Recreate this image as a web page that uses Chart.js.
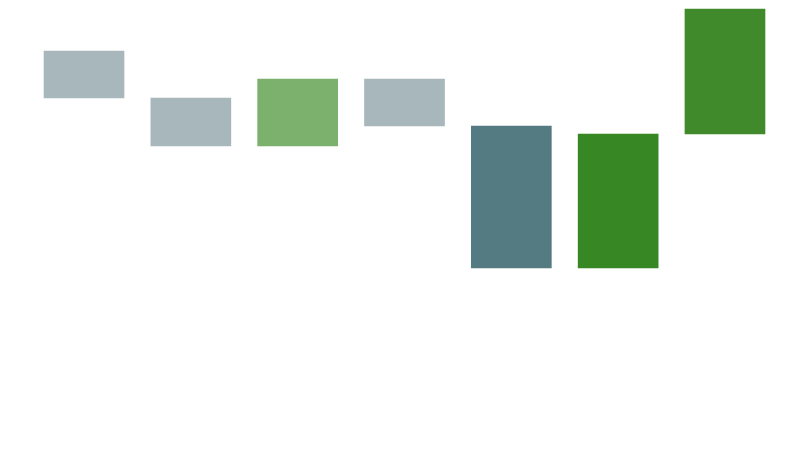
<!DOCTYPE html>
<html>
<head>
<meta charset="utf-8">
<script src="https://cdn.jsdelivr.net/npm/chart.js@4/dist/chart.umd.min.js"></script>
<style>
  html, body { margin: 0; padding: 0; background: #fff; }
  #wrap { width: 800px; height: 450px; }
</style>
</head>
<body>
<div id="wrap"><canvas id="chart"></canvas></div>
<script>
// floating bars: [start, end]
const categories = ['A', 'B', 'C', 'D', 'E', 'F', 'G'];
const barStarts = [17.0, 12.2, 12.2, 14.2, 0, 0, 13.4];
const barEnds = [21.7, 17.0, 18.9, 18.9, 14.2, 13.4, 25.9];
const barColors = ['#a7b7bb', '#a7b7bb', '#7bb06d', '#a7b7bb', '#547b81', '#378724', '#418a2c'];

const yMin = -18.2;
const yMax = 26.8;

new Chart(document.getElementById('chart'), {
  type: 'bar',
  data: {
    labels: categories,
    datasets: [{
      data: barStarts.map((s, i) => [s, barEnds[i]]),
      backgroundColor: barColors,
      borderWidth: 0,
      barThickness: 80
    }]
  },
  options: {
    responsive: true,
    maintainAspectRatio: false,
    animation: false,
    layout: { padding: { left: 30.6, right: 21.6, top: 0, bottom: 0 } },
    plugins: {
      legend: { display: false },
      tooltip: { enabled: false }
    },
    scales: {
      x: { display: false },
      y: { display: false, min: yMin, max: yMax }
    }
  }
});
</script>
</body>
</html>
